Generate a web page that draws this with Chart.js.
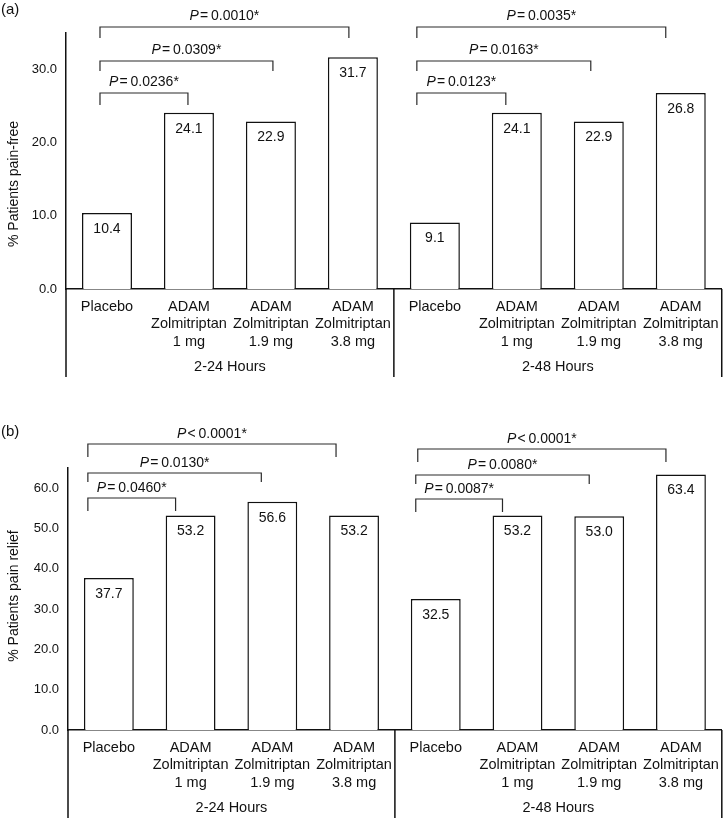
<!DOCTYPE html>
<html>
<head>
<meta charset="utf-8">
<script src="https://cdn.jsdelivr.net/npm/chart.js@4.4.1/dist/chart.umd.min.js"></script>
<style>
  html, body { margin: 0; padding: 0; background: #fff; }
  body { width: 728px; height: 818px; position: relative; overflow: hidden; }
  canvas { position: absolute; left: 0; }
  #chartA { top: 0; }
  #chartB { top: 400px; }
</style>
</head>
<body>
<canvas id="chartA" width="728" height="400"></canvas>
<canvas id="chartB" width="728" height="418"></canvas>
<script>
// Data
const categories = [
  'Placebo', ['ADAM', 'Zolmitriptan', '1 mg'], ['ADAM', 'Zolmitriptan', '1.9 mg'], ['ADAM', 'Zolmitriptan', '3.8 mg'],
  'Placebo', ['ADAM', 'Zolmitriptan', '1 mg'], ['ADAM', 'Zolmitriptan', '1.9 mg'], ['ADAM', 'Zolmitriptan', '3.8 mg']
];
const timeGroups = ['2-24 Hours', '2-48 Hours'];

const painFree = [10.4, 24.1, 22.9, 31.7, 9.1, 24.1, 22.9, 26.8];
const painRelief = [37.7, 53.2, 56.6, 53.2, 32.5, 53.2, 53.0, 63.4];

// placebo vs each dose, per time window
const comparisons = [[0, 1], [0, 2], [0, 3], [4, 5], [4, 6], [4, 7]];
const painFreeP = ['= 0.0236*', '= 0.0309*', '= 0.0010*', '= 0.0123*', '= 0.0163*', '= 0.0035*'];
const painReliefP = ['= 0.0460*', '= 0.0130*', '< 0.0001*', '= 0.0087*', '= 0.0080*', '< 0.0001*'];

const painFreeTicks = [0, 10, 20, 30];
const painReliefTicks = [0, 10, 20, 30, 40, 50, 60];

const FONT = "'Liberation Sans', Arial, Helvetica, sans-serif";
const INK = '#111';

Chart.defaults.font.family = FONT;
Chart.defaults.color = INK;

// values, brackets, group box, titles
const annotate = {
  id: 'annotate',
  afterDraw(chart, args, opts) {
    const { ctx, chartArea: area, scales: { x } } = chart;
    const meta = chart.getDatasetMeta(0);
    const values = chart.data.datasets[0].data;
    ctx.save();
    ctx.fillStyle = INK;
    ctx.strokeStyle = INK;
    ctx.textBaseline = 'middle';

    // value labels inside bars
    ctx.font = '14px ' + FONT;
    ctx.textAlign = 'center';
    meta.data.forEach((bar, i) => {
      ctx.fillText(values[i].toFixed(1), bar.x, bar.y + 16);
    });

    // category box below the axis
    const sep = (x.getPixelForValue(3) + x.getPixelForValue(4)) / 2;
    ctx.lineWidth = 1.5;
    ctx.beginPath();
    [area.left, sep, area.right].forEach(px => {
      ctx.moveTo(px, area.bottom);
      ctx.lineTo(px, area.bottom + opts.boxDepth);
    });
    ctx.stroke();

    ctx.font = '14.5px ' + FONT;
    timeGroups.forEach((g, k) => {
      const cx = (x.getPixelForValue(k * 4) + x.getPixelForValue(k * 4 + 3)) / 2;
      ctx.fillText(g, cx, area.bottom + 78);
    });

    // significance brackets
    ctx.lineWidth = 1.2;
    ctx.strokeStyle = '#2a2a2a';
    comparisons.forEach(([a, b], i) => {
      const level = i % 3;
      const x1 = x.getPixelForValue(a) + opts.leftNudge[i];
      const x2 = x.getPixelForValue(b) + opts.rightNudge[i];
      const yl = area.top + opts.levels[i];
      const t = opts.tickLen[level];
      ctx.beginPath();
      ctx.moveTo(x1, yl + t);
      ctx.lineTo(x1, yl);
      ctx.lineTo(x2, yl);
      ctx.lineTo(x2, yl + t);
      ctx.stroke();

      const parts = opts.pLabels[i].split(' ');
      const rest = '\u200a' + parts[0] + '\u2009' + parts[1];
      ctx.font = 'italic 14px ' + FONT;
      const wP = ctx.measureText('P').width;
      ctx.font = '14px ' + FONT;
      const wR = ctx.measureText(rest).width;
      const start = (x1 + x2) / 2 - (wP + wR) / 2;
      ctx.textAlign = 'left';
      ctx.font = 'italic 14px ' + FONT;
      ctx.fillText('P', start, yl - opts.textGap);
      ctx.font = '14px ' + FONT;
      ctx.fillText(rest, start + wP, yl - opts.textGap);
    });

    // panel letter
    ctx.textAlign = 'left';
    ctx.font = '15px ' + FONT;
    ctx.fillText(opts.letter, 1, opts.letterY);

    // y title
    ctx.translate(14, opts.titleY);
    ctx.rotate(-Math.PI / 2);
    ctx.textAlign = 'center';
    ctx.font = '14px ' + FONT;
    ctx.fillText(opts.title, 0, 0);
    ctx.restore();
  }
};

function makeChart(id, values, yTicks, yMax, layout, notes) {
  return new Chart(document.getElementById(id), {
    type: 'bar',
    data: {
      labels: categories,
      datasets: [{
        data: values,
        backgroundColor: '#fff',
        borderColor: INK,
        borderWidth: 1.5,
        barPercentage: 0.61,
        categoryPercentage: 1.0
      }]
    },
    options: {
      responsive: false,
      animation: false,
      devicePixelRatio: 1,
      events: [],
      layout: { padding: layout.padding },
      scales: {
        x: {
          grid: { display: false, drawTicks: false },
          border: { display: true, color: INK, width: 1.5 },
          ticks: {
            autoSkip: false, maxRotation: 0, padding: 9, color: INK,
            font: { size: 14.5, lineHeight: 1.2 }
          },
          afterFit: s => { s.height = layout.xHeight; }
        },
        y: {
          min: 0,
          max: yMax,
          grid: { display: false, drawTicks: false },
          border: { display: true, color: INK, width: 1.5 },
          afterBuildTicks: s => { s.ticks = yTicks.map(v => ({ value: v })); },
          ticks: {
            padding: 9, color: INK, font: { size: 13 },
            callback: v => Number(v).toFixed(1)
          },
          afterFit: s => { s.width = layout.yWidth; }
        }
      },
      plugins: {
        legend: { display: false },
        tooltip: { enabled: false },
        annotate: notes
      }
    },
    plugins: [annotate]
  });
}

const chartA = makeChart('chartA', painFree, painFreeTicks, 35,
  { padding: { left: 0, top: 33, right: 6, bottom: 0 }, yWidth: 66, xHeight: 111 },
  {
    pLabels: painFreeP,
    levels: [60, 28, -6, 60, 28, -6],
    tickLen: [12, 10, 11],
    leftNudge: [-7, -7, -7, -18, -18, -18],
    rightNudge: [-1, 2, -4, -11, -8, -15],
    textGap: 11,
    boxDepth: 88,
    letter: '(a)', letterY: 10,
    title: '% Patients pain-free', titleY: 184
  });

const chartB = makeChart('chartB', painRelief, painReliefTicks, 65,
  { padding: { left: 0, top: 68, right: 3, bottom: 0 }, yWidth: 68, xHeight: 88 },
  {
    pLabels: painReliefP,
    levels: [30, 5, -24, 31, 7, -19],
    tickLen: [13, 9, 13],
    leftNudge: [-21, -21, -21, -20, -20, -18],
    rightNudge: [-15, -11, -18, -15, -10, -15],
    textGap: 10,
    boxDepth: 88,
    letter: '(b)', letterY: 32,
    title: '% Patients pain relief', titleY: 196
  });
</script>
</body>
</html>
